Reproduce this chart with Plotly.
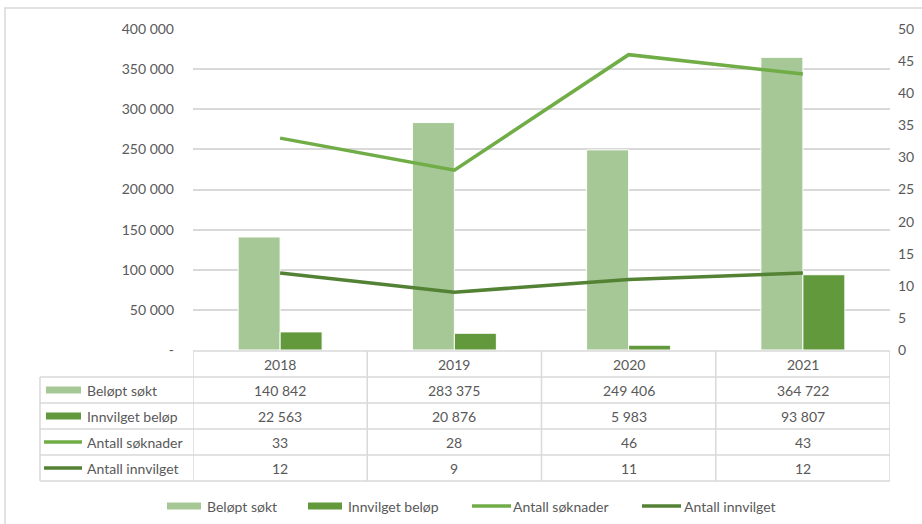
import plotly.graph_objects as go

years = ["2018", "2019", "2020", "2021"]
belopt_sokt = [140842, 283375, 249406, 364722]
innvilget_belop = [22563, 20876, 5983, 93807]
antall_soknader = [33, 28, 46, 43]
antall_innvilget = [12, 9, 11, 12]
series_names = ["Beløpt søkt", "Innvilget beløp", "Antall søknader", "Antall innvilget"]
left_ticks = [0, 50000, 100000, 150000, 200000, 250000, 300000, 350000, 400000]
right_ticks = [0, 5, 10, 15, 20, 25, 30, 35, 40, 45, 50]

W, H = 922, 524
L, R, T, B = 193, 32, 29, 174
PW = W - L - R
PH = H - T - B

def px(x):
    return (x - L) / PW

def py(y):
    return (H - B - y) / PH

def fmt(v):
    return f"{v:,}".replace(",", " ")

C_LIGHT = "#A6C796"
C_DARK = "#63993D"
C_L1 = "#70AD47"
C_L2 = "#548235"
GRID = "#D9D9D9"
TXT = "#595959"
FONT = "Lato"

fig = go.Figure()
fig.add_bar(x=years, y=belopt_sokt, name=series_names[0], marker=dict(color=C_LIGHT, line=dict(color="white", width=1)))
fig.add_bar(x=years, y=innvilget_belop, name=series_names[1], marker=dict(color=C_DARK, line=dict(color="white", width=1)))
fig.add_scatter(x=years, y=antall_soknader, name=series_names[2], mode="lines", line=dict(color=C_L1, width=3.5), yaxis="y2")
fig.add_scatter(x=years, y=antall_innvilget, name=series_names[3], mode="lines", line=dict(color=C_L2, width=3.5), yaxis="y2")

shapes = []
annotations = []

def text_ann(x, y, text, xref="paper", xanchor="center"):
    return dict(x=x, xref=xref, yref="paper", y=y, text=text, showarrow=False,
                xanchor=xanchor, yanchor="middle", font=dict(family=FONT, size=14, color=TXT))

# outer border
shapes.append(dict(type="rect", xref="paper", yref="paper", x0=px(5), x1=px(930), y0=py(540), y1=py(8),
                   line=dict(color=GRID, width=1.5), fillcolor="rgba(0,0,0,0)", layer="below"))

# table geometry
row_tops = [351, 377, 403, 429, 455, 481]
lab_left = 40
shapes.append(dict(type="line", xref="x", yref="paper", x0=-0.5, x1=len(years) - 0.5, y0=py(row_tops[0]), y1=py(row_tops[0]), line=dict(color=GRID, width=1.5)))
for yy in row_tops[1:]:
    shapes.append(dict(type="line", xref="paper", yref="paper", x0=px(lab_left), x1=1, y0=py(yy), y1=py(yy), line=dict(color=GRID, width=1.5)))
for i in range(len(years) + 1):
    shapes.append(dict(type="line", xref="x", yref="paper", x0=i - 0.5, x1=i - 0.5, y0=py(row_tops[0]), y1=py(row_tops[-1]), line=dict(color=GRID, width=1.5)))
shapes.append(dict(type="line", xref="paper", yref="paper", x0=px(lab_left), x1=px(lab_left), y0=py(row_tops[1]), y1=py(row_tops[-1]), line=dict(color=GRID, width=1.5)))

for i, yr in enumerate(years):
    annotations.append(text_ann(i, py((row_tops[0] + row_tops[1]) / 2), yr, xref="x"))
rows = [belopt_sokt, innvilget_belop, antall_soknader, antall_innvilget]
kinds = ["bar", "bar", "line", "line"]
colors = [C_LIGHT, C_DARK, C_L1, C_L2]
for r, vals in enumerate(rows):
    yc = (row_tops[r + 1] + row_tops[r + 2]) / 2
    for i, v in enumerate(vals):
        annotations.append(text_ann(i, py(yc), fmt(v), xref="x"))
    annotations.append(text_ann(px(85), py(yc), series_names[r], xanchor="left"))
    if kinds[r] == "bar":
        shapes.append(dict(type="rect", xref="paper", yref="paper", x0=px(46), x1=px(81), y0=py(yc + 3.5), y1=py(yc - 3.5),
                           fillcolor=colors[r], line=dict(width=0)))
    else:
        shapes.append(dict(type="line", xref="paper", yref="paper", x0=px(44), x1=px(82), y0=py(yc), y1=py(yc),
                           line=dict(color=colors[r], width=3.5)))

# bottom legend
leg_y = 506
leg_items = [(167, 201, 205), (308, 342, 346), (472, 511, 511), (642, 681, 682)]
for r, (k0, k1, tx) in enumerate(leg_items):
    if kinds[r] == "bar":
        shapes.append(dict(type="rect", xref="paper", yref="paper", x0=px(k0), x1=px(k1), y0=py(leg_y + 3.5), y1=py(leg_y - 3.5),
                           fillcolor=colors[r], line=dict(width=0)))
    else:
        shapes.append(dict(type="line", xref="paper", yref="paper", x0=px(k0), x1=px(k1), y0=py(leg_y), y1=py(leg_y),
                           line=dict(color=colors[r], width=3.5)))
    annotations.append(text_ann(px(tx), py(leg_y), series_names[r], xanchor="left"))

fig.update_layout(
    width=W, height=H,
    margin=dict(l=L, r=R, t=T, b=B, autoexpand=False),
    paper_bgcolor="white", plot_bgcolor="white",
    barmode="group", bargap=0.518, bargroupgap=0,
    showlegend=False,
    font=dict(family=FONT, size=14, color=TXT),
    xaxis=dict(type="category", range=[-0.5, len(years) - 0.5], showticklabels=False, showgrid=False, zeroline=False, showline=False),
    yaxis=dict(range=[0, 400000], tickvals=left_ticks, ticktext=[fmt(v) if v else "-" for v in left_ticks],
               showgrid=True, gridcolor=GRID, gridwidth=1.5, zeroline=False, showline=False,
               ticklabelstandoff=18, tickfont=dict(family=FONT, size=14, color=TXT)),
    yaxis2=dict(range=[0, 50], tickvals=right_ticks, overlaying="y", side="right", showgrid=False, zeroline=False,
                showline=False, ticklabelstandoff=7, tickfont=dict(family=FONT, size=14, color=TXT)),
    shapes=shapes, annotations=annotations,
)

fig.write_html("out.html", config={"displayModeBar": False},
               post_script="document.body.style.margin='0';document.body.style.overflow='hidden';")
